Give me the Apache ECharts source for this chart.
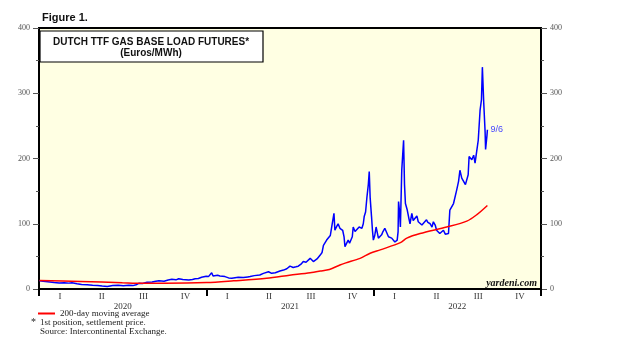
<!DOCTYPE html>
<html>
<head>
<meta charset="utf-8">
<script src="https://cdn.jsdelivr.net/npm/echarts@6/dist/echarts.min.js"></script>
<style>html,body{margin:0;padding:0;background:#fff}#c{width:624px;height:353px}</style>
</head>
<body>
<div id="c"></div>
<script>
// Dutch TTF front-month settlement price (Euros/MWh)
const ttfDates = [
'2020-01-02','2020-01-10','2020-01-20','2020-02-03','2020-02-14','2020-02-25','2020-03-06','2020-03-13','2020-03-24','2020-04-03',
'2020-04-15','2020-04-27','2020-05-08','2020-05-18','2020-05-29','2020-06-10','2020-06-22','2020-07-03','2020-07-15','2020-07-24',
'2020-07-31','2020-08-06','2020-08-14','2020-08-24','2020-09-04','2020-09-12','2020-09-19','2020-09-30','2020-10-09','2020-10-17',
'2020-10-26','2020-11-01','2020-11-10','2020-11-23','2020-12-01','2020-12-07','2020-12-14','2020-12-21','2020-12-31',
'2021-01-05','2021-01-12','2021-01-15','2021-01-19','2021-01-25','2021-01-30','2021-02-05','2021-02-10','2021-02-18','2021-02-25',
'2021-03-04','2021-03-11','2021-03-22','2021-04-01','2021-04-06','2021-04-15','2021-04-27','2021-05-05','2021-05-16','2021-05-23',
'2021-05-31','2021-06-10','2021-06-18','2021-06-25','2021-07-02','2021-07-09','2021-07-15','2021-07-20','2021-07-26','2021-07-31',
'2021-08-06','2021-08-15','2021-08-22','2021-08-30','2021-09-06','2021-09-10','2021-09-13','2021-09-16','2021-09-20','2021-09-24',
'2021-09-28','2021-10-01','2021-10-06','2021-10-08','2021-10-12','2021-10-15','2021-10-19','2021-10-21','2021-10-25','2021-10-28',
'2021-10-30','2021-11-03','2021-11-06','2021-11-09','2021-11-12','2021-11-15','2021-11-17','2021-11-21','2021-11-25','2021-11-30',
'2021-12-03','2021-12-06','2021-12-09','2021-12-11','2021-12-14','2021-12-17','2021-12-20','2021-12-22','2021-12-24','2021-12-27',
'2021-12-29','2021-12-31',
'2022-01-03','2022-01-06','2022-01-09','2022-01-11','2022-01-14','2022-01-18','2022-01-21','2022-01-25','2022-01-28','2022-02-02',
'2022-02-05','2022-02-09','2022-02-12','2022-02-16','2022-02-18','2022-02-21','2022-02-23','2022-02-24','2022-02-26','2022-02-28',
'2022-03-03','2022-03-07','2022-03-09','2022-03-11','2022-03-15','2022-03-18','2022-03-21','2022-03-25','2022-03-28','2022-04-01',
'2022-04-05','2022-04-08','2022-04-12','2022-04-16','2022-04-20','2022-04-26','2022-04-29','2022-05-04','2022-05-08','2022-05-11',
'2022-05-15','2022-05-18','2022-05-22','2022-05-25','2022-05-29','2022-06-02','2022-06-06','2022-06-09','2022-06-13','2022-06-16',
'2022-06-20','2022-06-24','2022-06-27','2022-07-01','2022-07-05','2022-07-08','2022-07-12','2022-07-16','2022-07-20','2022-07-23',
'2022-07-26','2022-07-28','2022-08-01','2022-08-03','2022-08-07','2022-08-10','2022-08-13','2022-08-17','2022-08-21','2022-08-24',
'2022-08-26','2022-08-29','2022-09-01','2022-09-02','2022-09-05','2022-09-06'
];
const ttfValues = [
12.7,12.0,11.2,10.0,9.2,9.6,9.0,9.7,8.2,7.0,
6.6,5.8,5.2,4.6,4.0,5.2,5.8,5.0,5.6,5.2,
6.5,8.7,8.5,10.2,10.7,11.8,12.7,12.0,13.8,14.8,
14.0,15.8,14.5,13.8,14.6,15.8,16.2,18.0,19.5,
19.0,25,20,19,21,20,19.5,19,17,16.4,
17.2,18,17.5,18.5,19,20.5,21.5,24,26.5,24,
25,27.6,29,31,35,33,34,35,38,42,
41,47,42,46,52,56,67,64,75,73,
82,95,116,90,96,100,93,95,90,80,
65,68,75,70,72,80,95,88,90,95,
92,93,100,111,118,141,160,180,140,111,
90,75,
82,95,85,78,80,83,88,93,90,80,
82,78,76,72,74,75,88,134,120,95,
182,228,160,131,121,110,100,116,105,108,
112,103,100,98,100,106,102,100,95,103,
98,90,88,85,88,90,84,81,85,121,
120,131,128,152,165,182,170,167,160,157,
175,203,200,198,205,193,208,228,274,290,
340,285,240,214,235,244
];
// 200-day moving average
const maDates = ['2020-01-02','2020-04-01','2020-07-01','2020-08-15','2020-10-01','2021-01-01','2021-03-01','2021-05-12','2021-07-01','2021-08-15',
'2021-09-06','2021-09-26','2021-10-19','2021-11-01','2021-12-02','2021-12-24','2022-01-15','2022-02-28','2022-03-14','2022-04-12',
'2022-06-09','2022-07-23','2022-08-14','2022-09-06'];
const maValues = [13,11.5,9.6,8.8,8.8,9.8,12.5,16.4,21,25,
27.5,30,36.8,40,47,54.7,60,71,78,85,
95,104,114,128];

const quarterLabels = ['I','II','III','IV','I','II','III','IV','I','II','III','IV'];
const yearLabels = ['2020','2021','2022'];
const yTicks = {min: 0, max: 400, interval: 100};

const serif = '"Liberation Serif", "DejaVu Serif", serif';
const sans = '"Liberation Sans", Arial, sans-serif';

const chart = echarts.init(document.getElementById('c'));
const yAxisCommon = {
  type: 'value', min: yTicks.min, max: yTicks.max, interval: yTicks.interval,
  axisLine: {show: true, lineStyle: {color: '#000', width: 2}},
  axisTick: {show: true, length: 6, lineStyle: {color: '#555', width: 1}},
  minorTick: {show: true, splitNumber: 2, length: 3, lineStyle: {color: '#555', width: 1}},
  splitLine: {show: false},
  axisLabel: {color: '#555', fontSize: 8, fontFamily: serif, margin: 9}
};
chart.setOption({
  animation: false,
  backgroundColor: '#fff',
  grid: {left: 39, right: 83, top: 28, bottom: 64, show: true, backgroundColor: '#FFFFE3', borderColor: '#000', borderWidth: 2},
  xAxis: [
    {type: 'time', min: '2020-01-01', max: '2023-01-01', show: false},
    {type: 'category', data: quarterLabels, position: 'bottom',
     axisLine: {show: false}, axisTick: {show: false},
     axisLabel: {color: '#333', fontSize: 9, fontFamily: serif, margin: 3}},
    {type: 'category', data: yearLabels, position: 'bottom',
     axisLine: {show: true, lineStyle: {color: '#000', width: 2}},
     axisTick: {show: true, length: 7, lineStyle: {color: '#000', width: 2}},
     axisLabel: {color: '#333', fontSize: 9, fontFamily: serif, margin: 13}}
  ],
  yAxis: [
    Object.assign({position: 'left'}, yAxisCommon),
    Object.assign({position: 'right'}, yAxisCommon)
  ],
  legend: {
    left: 33, top: 304, itemWidth: 17, itemHeight: 2, itemGap: 4,
    data: [{name: '200-day moving average', icon: 'rect'}],
    textStyle: {fontFamily: serif, fontSize: 9, color: '#222'}
  },
  series: [
    {name: 'TTF', type: 'line', xAxisIndex: 0, yAxisIndex: 0, showSymbol: false, symbol: 'none',
     data: ttfDates.map((d, i) => [d, ttfValues[i]]),
     lineStyle: {color: '#0000ff', width: 1.5}, itemStyle: {color: '#0000ff'},
     endLabel: {show: true, formatter: '9/6', color: '#4848ff', fontSize: 9, fontFamily: sans, distance: 3}},
    {name: '200-day moving average', type: 'line', xAxisIndex: 0, yAxisIndex: 0, showSymbol: false, symbol: 'none', smooth: 0.3,
     data: maDates.map((d, i) => [d, maValues[i]]),
     lineStyle: {color: '#ff0000', width: 1.5}, itemStyle: {color: '#ff0000'}}
  ],
  graphic: [
    {type: 'text', left: 42, top: 12, style: {text: 'Figure 1.', font: 'bold 11px ' + sans, fill: '#111'}},
    {type: 'rect', shape: {x: 40, y: 31, width: 223, height: 31}, style: {fill: '#fff', stroke: '#000', lineWidth: 1.2}, z: 10},
    {type: 'text', x: 151, y: 42, z: 11, style: {text: 'DUTCH TTF GAS BASE LOAD FUTURES*', font: 'bold 10px ' + sans, fill: '#111', align: 'center', verticalAlign: 'middle'}},
    {type: 'text', x: 151, y: 53, z: 11, style: {text: '(Euros/MWh)', font: 'bold 10px ' + sans, fill: '#111', align: 'center', verticalAlign: 'middle'}},
    {type: 'text', x: 537, y: 283, z: 11, style: {text: 'yardeni.com', font: 'italic bold 10px ' + serif, fill: '#111', align: 'right', verticalAlign: 'middle'}},
    {type: 'text', x: 31, y: 322, style: {text: '*', font: '10px ' + serif, fill: '#222', verticalAlign: 'middle'}},
    {type: 'text', x: 40, y: 323, style: {text: '1st position, settlement price.', font: '9px ' + serif, fill: '#222', verticalAlign: 'middle'}},
    {type: 'text', x: 40, y: 332, style: {text: 'Source: Intercontinental Exchange.', font: '9px ' + serif, fill: '#222', verticalAlign: 'middle'}}
  ]
});
</script>
</body>
</html>
